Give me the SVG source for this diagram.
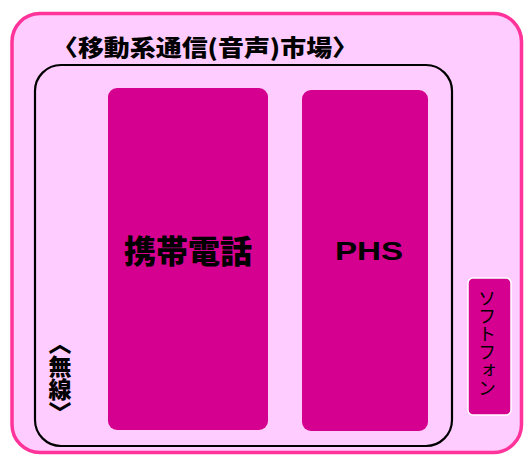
<svg xmlns="http://www.w3.org/2000/svg" width="526" height="456" viewBox="0 0 526 456">
<style>
.jp{font-family:"Noto Sans CJK JP","Noto Sans CJK SC",sans-serif;fill:#000}
.b{font-weight:bold}
.box{fill:#D5008F}
</style>
<rect width="526" height="456" fill="#fff"/>
<g id="market">
<rect x="12" y="13.5" width="509.5" height="439" rx="28" fill="#FFCCFF" stroke="#FF3399" stroke-width="3.5"/>
<text class="jp b" x="52" y="56" font-size="23" textLength="306" lengthAdjust="spacingAndGlyphs" style="font-weight:900">〈移動系通信(音声)市場〉</text>
</g>
<g id="wireless">
<rect x="35" y="65" width="417" height="381" rx="26" fill="none" stroke="#000" stroke-width="2.2"/>
<text class="jp" x="60" y="332" font-size="23" style="writing-mode:vertical-rl;font-weight:900">〈無線〉</text>
</g>
<g id="keitai">
<rect class="box" x="108" y="88" width="160" height="342" rx="9"/>
<text class="jp" x="188" y="263" font-size="32" text-anchor="middle" style="font-weight:900">携帯電話</text>
</g>
<g id="phs">
<rect class="box" x="302" y="90" width="126" height="341" rx="9"/>
<text x="369" y="260" font-family="'Liberation Sans',Arial,sans-serif" font-weight="bold" font-size="25" text-anchor="middle" textLength="68" lengthAdjust="spacingAndGlyphs">PHS</text>
</g>
<g id="softphone">
<rect class="box" x="468" y="278" width="43" height="137" rx="5" stroke="#fff" stroke-width="1.5"/>
<text class="jp" x="487" y="289" font-size="18" style="writing-mode:vertical-rl">ソフトフォン</text>
</g>
<g id="connectors"></g>
</svg>
